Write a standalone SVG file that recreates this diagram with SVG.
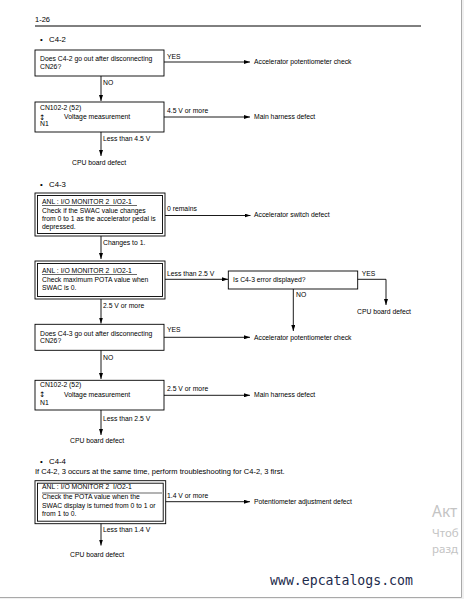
<svg xmlns="http://www.w3.org/2000/svg" width="464" height="599" viewBox="0 0 464 599">
<defs>
<style>
text{font-family:"Liberation Sans",Arial,sans-serif;fill:#000}
.t{font-size:6.8px}
.h{font-size:7.8px}
.p{font-size:7.5px}
.ar{font-family:"DejaVu Sans",sans-serif;font-size:7.5px}
.box{fill:none;stroke:#000;stroke-width:0.9}
.ln{fill:none;stroke:#000;stroke-width:0.9}
.wm{font-family:"Noto Sans","Open Sans",sans-serif;fill:#c4c4c4}
.url{font-family:"DejaVu Sans Mono","Liberation Mono",monospace;font-size:13.2px;fill:#1e2b4c}
</style>
<marker id="ah" markerWidth="6" markerHeight="4" refX="6" refY="2" orient="auto" markerUnits="userSpaceOnUse">
<path d="M0,0 L6,2 L0,4 z" fill="#000"/>
</marker>
<clipPath id="page"><rect x="0" y="0" width="461" height="597"/></clipPath>
</defs>
<rect x="0" y="0" width="464" height="599" fill="#ffffff"/>
<rect x="461.5" y="0" width="2.5" height="599" fill="#f0f0f0"/>
<rect x="0" y="597.5" width="464" height="1.5" fill="#f0f0f0"/>
<line x1="461.5" y1="0" x2="461.5" y2="597.5" stroke="#a9a9a9" stroke-width="1"/>
<line x1="0" y1="597.5" x2="461.5" y2="597.5" stroke="#a9a9a9" stroke-width="1"/>

<g id="header">
<text class="p" x="35" y="22">1-26</text>
<line x1="35" y1="26" x2="421" y2="26" stroke="#000" stroke-width="1"/>
</g>

<g id="sec-c42">
<text class="h" x="40" y="42">•</text>
<text class="h" x="49" y="42">C4-2</text>
</g>

<g id="n1">
<rect class="box" x="35" y="50" width="129" height="26"/>
<text class="t" x="40" y="61">Does C4-2 go out after disconnecting</text>
<text class="t" x="40" y="69">CN26?</text>
</g>
<g id="n1-yes"><text class="t" x="254" y="64">Accelerator potentiometer check</text></g>
<g id="n2">
<rect class="box" x="35" y="102" width="129" height="30"/>
<text class="t" x="40" y="110">CN102-2 (52)</text>
<text class="ar" x="39" y="119.5">↕</text>
<text class="t" x="64" y="119">Voltage measurement</text>
<text class="t" x="40" y="126">N1</text>
</g>
<g id="n2-yes"><text class="t" x="254" y="119">Main harness defect</text></g>
<g id="n2-no"><text class="t" x="72" y="165">CPU board defect</text></g>

<g id="sec-c43">
<text class="h" x="40" y="187">•</text>
<text class="h" x="49" y="187">C4-3</text>
</g>

<g id="n3">
<rect class="box" x="35" y="193" width="130" height="43"/>
<rect class="box" x="37.5" y="195.5" width="125" height="38"/>
<text class="t" x="42" y="204" xml:space="preserve">ANL : I/O MONITOR 2  I/O2-1</text>
<line x1="42" y1="205.5" x2="137" y2="205.5" stroke="#000" stroke-width="0.6"/>
<text class="t" x="42" y="212.5">Check if the SWAC value changes</text>
<text class="t" x="42" y="221">from 0 to 1 as the accelerator pedal is</text>
<text class="t" x="42" y="229">depressed.</text>
</g>
<g id="n3-yes"><text class="t" x="254" y="217">Accelerator switch defect</text></g>

<g id="n4">
<rect class="box" x="35" y="261" width="130" height="38"/>
<rect class="box" x="37.5" y="263.5" width="125" height="33"/>
<text class="t" x="42" y="273" xml:space="preserve">ANL : I/O MONITOR 2  I/O2-1</text>
<line x1="42" y1="274.5" x2="137" y2="274.5" stroke="#000" stroke-width="0.6"/>
<text class="t" x="42" y="281.7">Check maximum POTA value when</text>
<text class="t" x="42" y="289.7">SWAC is 0.</text>
</g>

<g id="n4b">
<rect class="box" x="228.3" y="271" width="129.4" height="18"/>
<text class="t" x="233" y="282">Is C4-3 error displayed?</text>
</g>
<g id="n4b-yes"><text class="t" x="384" y="314" text-anchor="middle">CPU board defect</text></g>

<g id="n5">
<rect class="box" x="35" y="324.3" width="129" height="26"/>
<text class="t" x="40" y="335.7">Does C4-3 go out after disconnecting</text>
<text class="t" x="40" y="343">CN26?</text>
</g>
<g id="n5-yes"><text class="t" x="254" y="339.5">Accelerator potentiometer check</text></g>

<g id="n6">
<rect class="box" x="35" y="380.3" width="129" height="29.7"/>
<text class="t" x="40" y="387">CN102-2 (52)</text>
<text class="ar" x="39" y="397.2">↕</text>
<text class="t" x="64" y="396.7">Voltage measurement</text>
<text class="t" x="40" y="405">N1</text>
</g>
<g id="n6-yes"><text class="t" x="254" y="397">Main harness defect</text></g>
<g id="n6-no"><text class="t" x="70" y="442.7">CPU board defect</text></g>

<g id="sec-c44">
<text class="h" x="40" y="464">•</text>
<text class="h" x="49" y="464">C4-4</text>
<text class="p" x="35" y="473.5">If C4-2, 3 occurs at the same time, perform troubleshooting for C4-2, 3 first.</text>
</g>

<g id="n7">
<rect class="box" x="35" y="480.7" width="130.7" height="43"/>
<rect class="box" x="37.5" y="483.2" width="125.7" height="38"/>
<text class="t" x="42" y="489.3" xml:space="preserve">ANL : I/O MONITOR 2  I/O2-1</text>
<line x1="42" y1="493" x2="162" y2="493" stroke="#000" stroke-width="0.6"/>
<text class="t" x="42" y="499">Check the POTA value when the</text>
<text class="t" x="42" y="508">SWAC display is turned from 0 to 1 or</text>
<text class="t" x="42" y="516">from 1 to 0.</text>
</g>
<g id="n7-yes"><text class="t" x="254" y="504">Potentiometer adjustment defect</text></g>
<g id="n7-no"><text class="t" x="70" y="556.7">CPU board defect</text></g>

<g id="connectors">
<path class="ln" d="M164,62 H250" marker-end="url(#ah)"/>
<text class="t" x="167" y="59">YES</text>
<path class="ln" d="M101,76 V101" marker-end="url(#ah)"/>
<text class="t" x="103" y="85">NO</text>
<path class="ln" d="M164,117 H250" marker-end="url(#ah)"/>
<text class="t" x="167" y="112.5">4.5 V or more</text>
<path class="ln" d="M101,132 V156" marker-end="url(#ah)"/>
<text class="t" x="103" y="141">Less than 4.5 V</text>

<path class="ln" d="M165,215.5 H250.5" marker-end="url(#ah)"/>
<text class="t" x="167" y="210.5">0 remains</text>
<path class="ln" d="M101,236 V259" marker-end="url(#ah)"/>
<text class="t" x="103" y="245">Changes to 1.</text>
<path class="ln" d="M165,279.3 H228" marker-end="url(#ah)"/>
<text class="t" x="167" y="276">Less than 2.5 V</text>
<path class="ln" d="M357.7,279.3 H386 V305" marker-end="url(#ah)"/>
<text class="t" x="361.7" y="276">YES</text>
<path class="ln" d="M293.3,289 V331" marker-end="url(#ah)"/>
<text class="t" x="296" y="297.3">NO</text>
<path class="ln" d="M101,299 V323.5" marker-end="url(#ah)"/>
<text class="t" x="103" y="307.7">2.5 V or more</text>

<path class="ln" d="M164,337.3 H250" marker-end="url(#ah)"/>
<text class="t" x="167" y="332">YES</text>
<path class="ln" d="M101,350.3 V379" marker-end="url(#ah)"/>
<text class="t" x="103" y="359.7">NO</text>
<path class="ln" d="M164,395.3 H250" marker-end="url(#ah)"/>
<text class="t" x="167" y="391">2.5 V or more</text>
<path class="ln" d="M101,410 V435" marker-end="url(#ah)"/>
<text class="t" x="103" y="420.7">Less than 2.5 V</text>

<path class="ln" d="M165.7,501.7 H250" marker-end="url(#ah)"/>
<text class="t" x="167" y="497.7">1.4 V or more</text>
<path class="ln" d="M101,523.7 V545.5" marker-end="url(#ah)"/>
<text class="t" x="103" y="531.7">Less than 1.4 V</text>
</g>

<g id="overlay" clip-path="url(#page)">
<text class="wm" x="432" y="517" font-size="15.5">Акт</text>
<text class="wm" x="432" y="537" font-size="11.5">Чтоб</text>
<text class="wm" x="432" y="553" font-size="11.5">разд</text>
<text class="url" x="270" y="585">www.epcatalogs.com</text>
</g>
</svg>
